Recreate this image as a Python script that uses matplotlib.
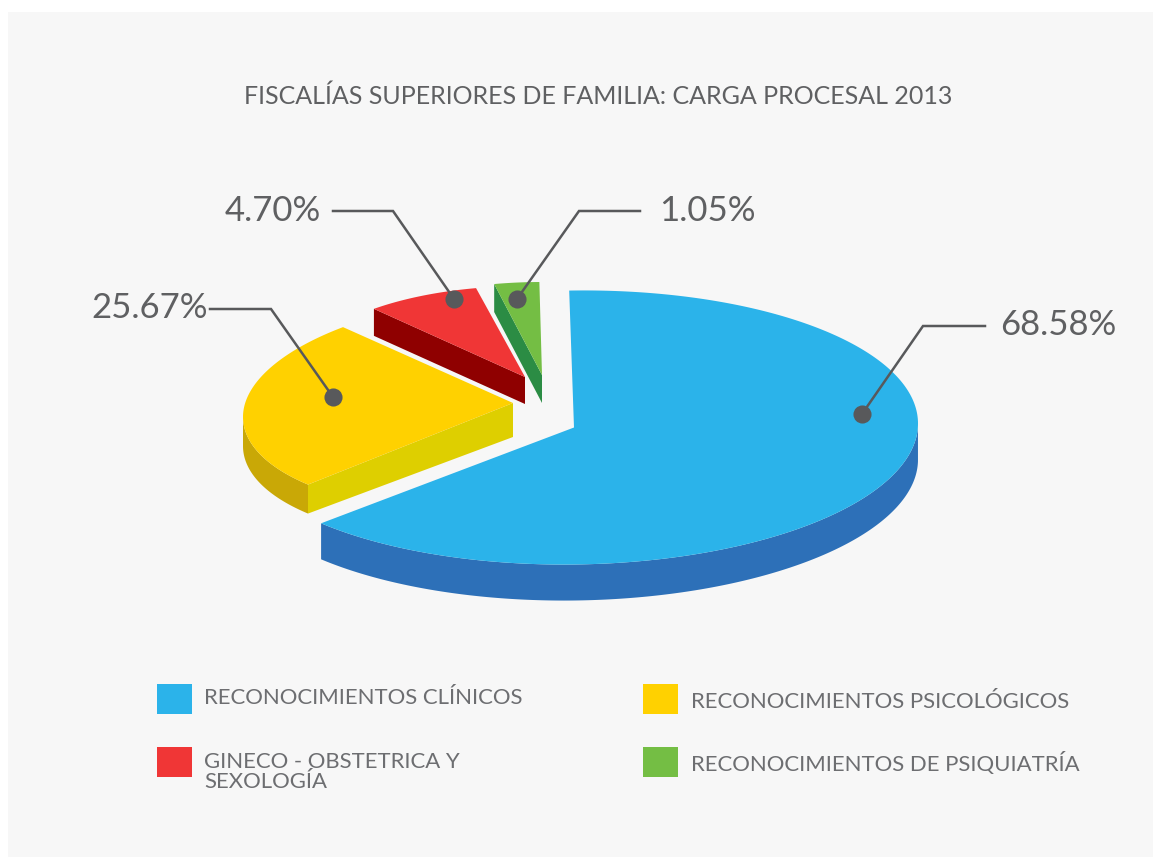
import numpy as np
import matplotlib
matplotlib.use("Agg")
import matplotlib.pyplot as plt
from matplotlib.patches import Rectangle

plt.rcParams['font.family'] = ['Lato', 'DejaVu Sans']

title = "FISCALÍAS SUPERIORES DE FAMILIA: CARGA PROCESAL 2013"
categories = ["RECONOCIMIENTOS CLÍNICOS", "RECONOCIMIENTOS PSICOLÓGICOS",
              "GINECO - OBSTETRICA Y\nSEXOLOGÍA", "RECONOCIMIENTOS DE PSIQUIATRÍA"]
shares = [68.58, 25.67, 4.70, 1.05]

top_colors = ["#2BB3EA", "#FFD100", "#F03636", "#74BE44"]
rim_colors = ["#2D70B8", "#C9A806", None, None]
cut_colors = [None, "#DECF00", "#8F0000", "#2B8C44"]

# the original is drawn in a faked perspective, every slice has its own ellipse
centers = [(574, 427.5), (513, 403), (525, 377), (542, 375)]
radii_x = [344, 270, 228, 230]
radii_y = [137, 109, 91, 93]
tilts = [-4, -14, 0, 0]
depths = [36, 34, 27, 28]
outer_depths = [36, 29, 27, 28]
start_angles = [90.8, 220.6, 131.5, 102.0]
sweep_scales = [0.924, 0.991, 1.72, 3.0]

# leader lines: dot, elbow, end, then the label anchor
leader_dots = [(862, 414), (333, 397), (454, 299), (517, 299)]
leader_elbows = [(923, 326), (271, 309), (393, 211), (579, 211)]
leader_ends = [(985, 326), (210, 309), (333, 211), (640, 211)]
label_pos = [(1000, 325), (208, 308), (321, 211), (659, 211)]
label_align = ["left", "right", "right", "left"]

legend_boxes = [(157, 684), (643, 684), (157, 747), (643, 747)]
legend_text = [(204, 698), (691, 702), (204, 772), (691, 764)]

TEXT_COLOR = "#5F6062"


def arc_points(center, rx, ry, tilt, t):
    x = center[0] + rx * np.cos(t)
    y = center[1] - ry * np.sin(t) + tilt * np.cos(t)
    return x, y


def draw_slice(ax, i):
    sweep = shares[i] * 3.6 * sweep_scales[i]
    t = np.radians(np.linspace(start_angles[i], start_angles[i] - sweep, 300))
    cx, cy = centers[i]
    x, y = arc_points(centers[i], radii_x[i], radii_y[i], tilts[i], t)

    # outer wall, only the part turned to the viewer
    if rim_colors[i]:
        front = np.sin(t) <= 0
        xr, yr = x[front], y[front]
        ax.fill(np.r_[xr, xr[::-1]], np.r_[yr, yr[::-1] + outer_depths[i]],
                color=rim_colors[i], lw=0)
    # cut wall on the start edge of the slice
    if cut_colors[i]:
        ax.fill([cx, x[0], x[0], cx],
                [cy, y[0], y[0] + outer_depths[i], cy + depths[i]],
                color=cut_colors[i], lw=0)
    ax.fill(np.r_[cx, x], np.r_[cy, y], color=top_colors[i], lw=0)


fig = plt.figure(figsize=(11.53, 8.58), dpi=100, facecolor="white")
ax = fig.add_axes([0, 0, 1, 1])
ax.set_xlim(0, 1153)
ax.set_ylim(858, 0)
ax.axis("off")

ax.add_patch(Rectangle((8, 12), 1145, 845, color="#F7F7F7", lw=0))

ax.text(598, 96, title, fontsize=18, color=TEXT_COLOR, ha="center", va="center")

for i in range(len(shares)):
    draw_slice(ax, i)

for i in range(len(shares)):
    xs = [leader_dots[i][0], leader_elbows[i][0], leader_ends[i][0]]
    ys = [leader_dots[i][1], leader_elbows[i][1], leader_ends[i][1]]
    ax.plot(xs, ys, color="#58595B", lw=1.8, solid_joinstyle="miter")
    ax.scatter(xs[0], ys[0], s=170, color="#58595B", lw=0, zorder=5)
    ax.text(label_pos[i][0], label_pos[i][1], f"{shares[i]:.2f}%", fontsize=25,
            color=TEXT_COLOR, ha=label_align[i], va="center")

for i in range(len(categories)):
    ax.add_patch(Rectangle(legend_boxes[i], 35, 30, color=top_colors[i], lw=0))
    ax.text(legend_text[i][0], legend_text[i][1], categories[i], fontsize=15.9,
            color="#6D6E71", ha="left", va="center", linespacing=1.03)

fig.savefig("out.png", dpi=100)
